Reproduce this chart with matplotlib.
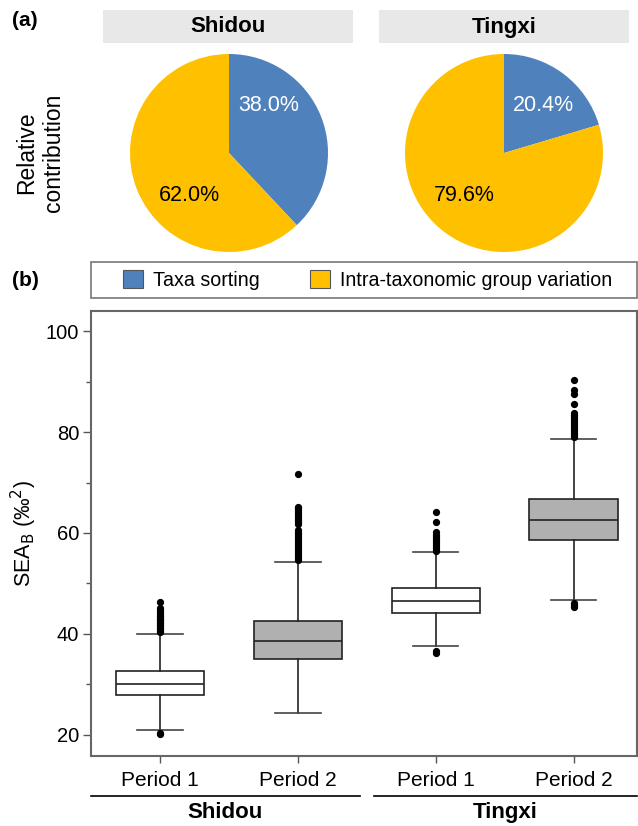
import matplotlib
matplotlib.use("Agg")
import matplotlib.pyplot as plt
from matplotlib.patches import Rectangle, Patch
from matplotlib.lines import Line2D

plt.rcParams['font.family'] = ['Liberation Sans', 'DejaVu Sans']

# ---------------- data ----------------
sites = ["Shidou", "Tingxi"]
components = ["Taxa sorting", "Intra-taxonomic group variation"]
pie_colors = ["#4f81bd", "#ffc000"]
shidou_contrib = [38.0, 62.0]
tingxi_contrib = [20.4, 79.6]

periods = ["Period 1", "Period 2", "Period 1", "Period 2"]
box_fill = ["white", "#b0b0b0", "white", "#b0b0b0"]
medians = [30.0, 38.6, 46.5, 62.5]
q1s = [27.8, 35.0, 44.2, 58.7]
q3s = [32.6, 42.6, 49.0, 66.7]
whis_lo = [20.9, 24.4, 37.6, 46.7]
whis_hi = [40.0, 54.2, 56.2, 78.7]
fliers_sh1 = [20.1, 20.3, 40.3, 40.6, 40.9, 41.2, 41.5, 41.8, 42.1, 42.4, 42.7,
              43.0, 43.3, 43.6, 44.0, 44.4, 44.8, 45.2, 46.4]
fliers_sh2 = [54.6, 55.0, 55.4, 55.8, 56.2, 56.6, 57.0, 57.4, 57.8, 58.2, 58.6,
              59.0, 59.4, 59.8, 60.2, 60.6, 61.7, 62.1, 62.5, 62.9, 63.3, 63.7,
              64.1, 64.5, 64.9, 65.2, 71.7]
fliers_tx1 = [36.3, 36.6, 56.5, 56.9, 57.3, 57.7, 58.1, 58.5, 58.9, 59.3, 59.7,
              60.2, 62.1, 64.2]
fliers_tx2 = [45.4, 45.8, 46.2, 79.0, 79.4, 79.8, 80.2, 80.6, 81.0, 81.4, 81.8,
              82.2, 82.6, 83.0, 83.4, 83.8, 85.5, 87.6, 88.3, 90.4]
fliers = [fliers_sh1, fliers_sh2, fliers_tx1, fliers_tx2]

yticks = [20, 40, 60, 80, 100]
minor_yticks = [30, 50, 70, 90]

# ---------------- figure ----------------
W, H = 638, 826
fig = plt.figure(figsize=(W / 100, H / 100), dpi=100)


def fx(px):
    return px / W


def fy(py):
    return 1 - py / H


# panel labels
fig.text(fx(25), fy(21), "(a)", fontsize=15, fontweight='bold', ha='center', va='center')
fig.text(fx(25), fy(280), "(b)", fontsize=15, fontweight='bold', ha='center', va='center')

# relative contribution label
fig.text(fx(40), fy(153), "Relative\ncontribution", rotation=90, fontsize=16.5,
         ha='center', va='center', linespacing=1.25)

# header strips and pies
strips = [(103, 353), (379, 629)]
centers = [(229, 153), (504, 153)]
radius = 99
contribs = [shidou_contrib, tingxi_contrib]
for site, (sx0, sx1), (cx, cy), vals in zip(sites, strips, centers, contribs):
    fig.patches.append(Rectangle((fx(sx0), fy(43)), fx(sx1 - sx0), (43 - 10) / H,
                                 transform=fig.transFigure, facecolor="#e8e8e8",
                                 edgecolor='none'))
    fig.text(fx((sx0 + sx1) / 2), fy(27), site, fontsize=16, fontweight='bold',
             ha='center', va='center')
    ax = fig.add_axes([fx(cx - radius), fy(cy + radius), fx(2 * radius), 2 * radius / H])
    ax.pie(vals, colors=pie_colors, startangle=90, counterclock=False,
           wedgeprops=dict(linewidth=0))
    ax.set_xlim(-1, 1)
    ax.set_ylim(-1, 1)
    ax.set_aspect('auto')
    ax.axis('off')
    ax.text(0.40, 0.48, f"{vals[0]:.1f}%", color='white', fontsize=15.5,
            ha='center', va='center')
    ax.text(-0.40, -0.43, f"{vals[1]:.1f}%", color='black', fontsize=15.5,
            ha='center', va='center')

# legend box
fig.patches.append(Rectangle((fx(91), fy(298)), fx(637 - 91), (298 - 262) / H,
                             transform=fig.transFigure, facecolor='white',
                             edgecolor='#777777', linewidth=1.2))
handles = [Patch(facecolor=c, edgecolor='#555555', linewidth=0.8) for c in pie_colors]
fig.legend(handles, components, ncol=2, loc='center left',
           bbox_to_anchor=(fx(123), fy(280)), frameon=False, fontsize=14.1,
           handlelength=1.0, handleheight=1.0, handletextpad=0.55,
           columnspacing=2.55, borderpad=0, borderaxespad=0)

# main box plot
ax = fig.add_axes([fx(91), fy(756), fx(637 - 91), (756 - 311) / H])
positions = [1, 2, 3, 4]
stats = []
for i in range(4):
    stats.append(dict(med=medians[i], q1=q1s[i], q3=q3s[i], whislo=whis_lo[i],
                      whishi=whis_hi[i], fliers=fliers[i]))
bp = ax.bxp(stats, positions=positions, widths=0.64, patch_artist=True,
            showfliers=True,
            boxprops=dict(edgecolor='#222222', linewidth=1.2),
            medianprops=dict(color='#222222', linewidth=1.2),
            whiskerprops=dict(color='#222222', linewidth=1.2),
            capprops=dict(color='#444444', linewidth=1.2),
            capwidths=0.33,
            flierprops=dict(marker='o', markerfacecolor='black', markeredgecolor='black',
                            markersize=4.2, linestyle='none'))
for patch, c in zip(bp['boxes'], box_fill):
    patch.set_facecolor(c)

ax.set_xlim(0.5, 4.46)
ax.set_ylim(15.8, 104.0)
ax.set_yticks(yticks)
ax.set_yticks(minor_yticks, minor=True)
ax.set_xticks(positions)
ax.set_xticklabels(periods)
ax.tick_params(axis='y', which='major', labelsize=14.5, length=5.5, width=1,
               color='#555555', pad=3)
ax.tick_params(axis='x', which='major', labelsize=15, length=5, width=1,
               color='#555555', pad=6)
ax.tick_params(axis='y', which='minor', length=3.5, width=1, color='#555555')
for s in ax.spines.values():
    s.set_color('#666666')
    s.set_linewidth(1.5)
ax.set_ylabel(r"SEA$_{\mathrm{B}}$ (‰$^{2}$)", fontsize=15.5)
ax.yaxis.set_label_coords(-0.095, 0.5)

# group lines under the axis
trans = ax.get_xaxis_transform()
groups = [(0.5, 2.45), (2.55, 4.46)]
for site, (g0, g1) in zip(sites, groups):
    ax.add_line(Line2D([g0, g1], [-0.09, -0.09], transform=trans, color='black',
                       linewidth=1.2, clip_on=False))
    ax.text((g0 + g1) / 2, -0.128, site, transform=trans, fontsize=16,
            fontweight='bold', ha='center', va='center')

fig.savefig("out.png", dpi=100)
